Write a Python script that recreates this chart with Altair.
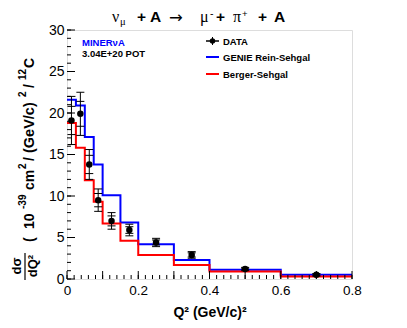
import altair as alt
import pandas as pd

# ---------------- data ----------------
bin_edges = [0.0, 0.025, 0.05, 0.075, 0.1, 0.15, 0.2, 0.3, 0.4, 0.6, 0.8]
genie = [21.6, 20.9, 17.1, 13.8, 10.1, 6.8, 4.2, 2.3, 1.1, 0.5]
berger = [18.8, 15.8, 11.9, 9.3, 6.7, 4.6, 2.9, 1.7, 0.9, 0.3]
data_x = [0.0125, 0.0375, 0.0625, 0.0875, 0.125, 0.175, 0.25, 0.35, 0.5, 0.7]
data_y = [19.1, 19.9, 13.8, 9.5, 7.0, 5.9, 4.4, 2.9, 1.2, 0.5]
err_tot = [2.9, 2.6, 1.8, 1.35, 1.0, 0.7, 0.5, 0.4, 0.2, 0.15]
err_stat = [1.7, 1.5, 1.1, 0.8, 0.6, 0.4, 0.3, 0.25, 0.1, 0.1]

x_major = [0.0, 0.1, 0.2, 0.3, 0.4, 0.5, 0.6, 0.7, 0.8]
x_minor = [i * 0.02 for i in range(41)]
y_major = [0, 5, 10, 15, 20, 25, 30]
y_minor = list(range(31))

W, H = 285, 249
FONT = "Liberation Sans"

xs = alt.Scale(domain=[0, 0.8], nice=False, zero=False)
ys = alt.Scale(domain=[0, 30], nice=False, zero=False)

X_AX = alt.Axis(values=x_major, format="~g", ticks=False, domain=False, grid=False,
                labelFont=FONT, labelFontSize=13.5, labelColor="black", labelPadding=4,
                title=None, labelFlush=False)
Y_AX = alt.Axis(values=y_major, ticks=False, domain=False, grid=False,
                labelFont=FONT, labelFontSize=14, labelColor="black", labelPadding=3,
                title=None)


def step_df(vals):
    return pd.DataFrame({"x": bin_edges, "y": list(vals) + [vals[-1]]})


blue = alt.Chart(step_df(genie)).mark_line(interpolate="step-after", color="#0000ff",
                                            strokeWidth=2, clip=True).encode(
    x=alt.X("x:Q", scale=xs, axis=X_AX), y=alt.Y("y:Q", scale=ys, axis=Y_AX))
red = alt.Chart(step_df(berger)).mark_line(interpolate="step-after", color="#ff0000",
                                           strokeWidth=2, clip=True).encode(
    x=alt.X("x:Q", scale=xs), y=alt.Y("y:Q", scale=ys))

pts = pd.DataFrame({"x": data_x, "y": data_y,
                    "lo_t": [a - b for a, b in zip(data_y, err_tot)],
                    "hi_t": [a + b for a, b in zip(data_y, err_tot)],
                    "lo_s": [a - b for a, b in zip(data_y, err_stat)],
                    "hi_s": [a + b for a, b in zip(data_y, err_stat)]})

err = alt.Chart(pts).mark_rule(color="black", strokeWidth=1).encode(
    x=alt.X("x:Q", scale=xs), y=alt.Y("lo_t:Q", scale=ys), y2="hi_t:Q")
caps = [alt.Chart(pts).mark_rule(color="black", strokeWidth=1, xOffset=-4, x2Offset=4).encode(
    x=alt.X("x:Q", scale=xs), x2="x:Q", y=alt.Y(f"{c}:Q", scale=ys))
    for c in ["lo_t", "hi_t", "lo_s", "hi_s"]]
dots = alt.Chart(pts).mark_circle(color="black", opacity=1, size=42).encode(
    x=alt.X("x:Q", scale=xs), y=alt.Y("y:Q", scale=ys))

# inward ticks
xmaj = alt.Chart(pd.DataFrame({"v": x_major})).mark_rule(color="black").encode(
    x=alt.X("v:Q", scale=xs), y=alt.value(H), y2=alt.value(H - 8))
xmin = alt.Chart(pd.DataFrame({"v": x_minor})).mark_rule(color="black").encode(
    x=alt.X("v:Q", scale=xs), y=alt.value(H), y2=alt.value(H - 4))
ymaj = alt.Chart(pd.DataFrame({"v": y_major})).mark_rule(color="black").encode(
    y=alt.Y("v:Q", scale=ys), x=alt.value(0), x2=alt.value(8))
ymin = alt.Chart(pd.DataFrame({"v": y_minor})).mark_rule(color="black").encode(
    y=alt.Y("v:Q", scale=ys), x=alt.value(0), x2=alt.value(4))


def label(txt, x, y, size, bold=False, color="black", angle=0, align="left",
          baseline="alphabetic", font=FONT):
    return alt.Chart(pd.DataFrame({"t": [txt]})).mark_text(
        align=align, baseline=baseline, fontSize=size,
        fontWeight="bold" if bold else "normal", color=color, angle=angle, font=font
    ).encode(x=alt.value(x), y=alt.value(y), text="t:N")


def hline(x1, x2, y, color, width=2):
    return alt.Chart(pd.DataFrame({"a": [0]})).mark_rule(color=color, strokeWidth=width).encode(
        x=alt.value(x1), x2=alt.value(x2), y=alt.value(y))


def vline(x, y1, y2, color="black", width=1):
    return alt.Chart(pd.DataFrame({"a": [0]})).mark_rule(color=color, strokeWidth=width).encode(
        x=alt.value(x), y=alt.value(y1), y2=alt.value(y2))


OX, OY = 67, 30  # plot origin in page pixels
TB = 22  # title baseline (page px)
SB = 17  # superscript baseline

# y-title pieces: (text, start y on page, size, is_superscript)
ytitle = [("(", 242, 14, False), ("10", 229, 14, False), ("-39", 209, 10, True),
          ("cm", 190, 14, False), ("2", 169, 10, True), ("/", 161, 14, False),
          ("(GeV/c)", 153, 14.5, False), ("2", 97, 10, True), ("/", 88, 14, False),
          ("12", 80, 10, True), ("C", 68, 14, False)]

texts = [
    # experiment labels
    label("MINERνA", 82 - OX, 46 - OY, 9.5, bold=True, color="#0000ff"),
    label("3.04E+20 POT", 82 - OX, 57 - OY, 9.5, bold=True),
    # legend
    hline(206 - OX, 219 - OX, 41 - OY, "black", 1.5),
    vline(212.5 - OX, 37 - OY, 45 - OY),
    alt.Chart(pd.DataFrame({"a": [0]})).mark_circle(color="black", opacity=1, size=30).encode(
        x=alt.value(212.5 - OX), y=alt.value(41 - OY)),
    label("DATA", 223 - OX, 44.5 - OY, 9.5, bold=True),
    hline(206 - OX, 219 - OX, 57 - OY, "#0000ff", 2),
    label("GENIE Rein-Sehgal", 223 - OX, 60.5 - OY, 9.5, bold=True),
    hline(206 - OX, 219 - OX, 74 - OY, "#ff0000", 2),
    label("Berger-Sehgal", 223 - OX, 77.5 - OY, 9.5, bold=True),
    # title
    label("ν", 112 - OX, TB - OY, 16, font="Liberation Serif"),
    label("μ", 120 - OX, TB + 3 - OY, 10.5, font="Liberation Serif"),
    label("+", 137 - OX, TB - OY, 15.5, bold=True),
    label("A", 150 - OX, TB - OY, 15.5, bold=True),
    label("→", 169 - OX, TB + 1 - OY, 16.5, font="DejaVu Sans"),
    label("μ", 200 - OX, TB - OY, 16, font="Liberation Serif"),
    label("-", 210 - OX, SB - OY, 10.5),
    label("+", 216 - OX, TB - OY, 15.5, bold=True),
    label("π", 233 - OX, TB - OY, 16, font="Liberation Serif"),
    label("+", 242 - OX, SB - OY, 9.5),
    label("+", 258 - OX, TB - OY, 15.5, bold=True),
    label("A", 274 - OX, TB - OY, 15.5, bold=True),
    # x title
    label("Q² (GeV/c)²", 210 - OX, 313 - OY, 14, bold=True, align="center", baseline="middle"),
    # y title fraction
    label("dσ", 17 - OX, 266 - OY, 13, bold=True, angle=270, align="center", baseline="middle"),
    label("dQ²", 33 - OX, 266 - OY, 13, bold=True, angle=270, align="center", baseline="middle"),
    alt.Chart(pd.DataFrame({"a": [0]})).mark_rule(color="black", strokeWidth=1.2).encode(
        x=alt.value(25 - OX), y=alt.value(253 - OY), y2=alt.value(280 - OY)),
]
for t, y0, sz, sup in ytitle:
    texts.append(label(t, (23 if sup else 30) - OX, y0 - OY, sz, bold=True, angle=270,
                       align="left", baseline="middle"))

chart = alt.layer(blue, red, err, *caps, dots, xmaj, xmin, ymaj, ymin, *texts).properties(
    width=W, height=H,
    autosize=alt.AutoSizeParams(type="none"),
    padding={"left": OX - 8, "top": OY - 8, "right": 407 - 16 - (OX - 8) - W,
             "bottom": 328 - 16 - (OY - 8) - H},
).configure_view(stroke="black", strokeWidth=1.2).configure(background="white")

chart.save("out.html", embed_options={"renderer": "svg", "actions": False})
